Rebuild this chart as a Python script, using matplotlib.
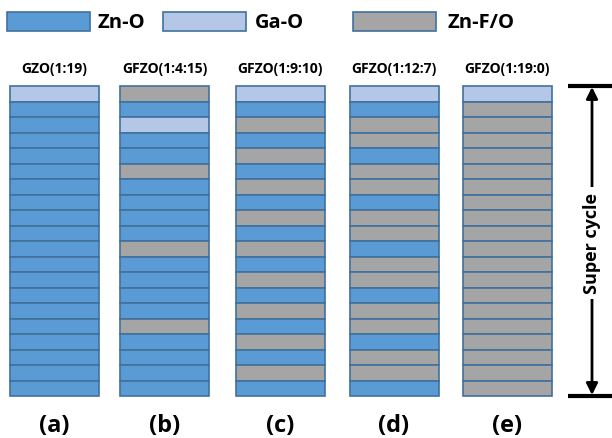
import matplotlib
matplotlib.use('Agg')
import matplotlib.pyplot as plt

# layer codes, top to bottom: Z = Zn-O, G = Ga-O, F = Zn-F/O
titles = ["GZO(1:19)", "GFZO(1:4:15)", "GFZO(1:9:10)", "GFZO(1:12:7)", "GFZO(1:19:0)"]
letters = ["(a)", "(b)", "(c)", "(d)", "(e)"]
stacks = [
    "G" + "Z" * 19,
    "FZGZZFZZZZFZZZZFZZZZ",
    "GZFZFZFZFZFZFZFZFZFZ",
    "GZFFZFFZFFZFFZFFZFFZ",
    "G" + "F" * 19,
]
legend_names = {"Z": "Zn-O", "G": "Ga-O", "F": "Zn-F/O"}
fills = {"Z": "#5B9BD5", "G": "#B4C7E7", "F": "#A5A5A5"}
edge = "#41719C"

plt.rcParams['font.family'] = ['Open Sans', 'DejaVu Sans']

fig = plt.figure(figsize=(6.12, 4.39), dpi=100)
ax = fig.add_axes([0, 0, 1, 1])
ax.set_xlim(0, 612)
ax.set_ylim(439, 0)
ax.axis('off')

# stack geometry in pixels
centers = [54, 164.5, 280, 394, 507]
col_w = 89
top, bottom = 87, 397
row_h = (bottom - top) / 20

for cx, layers, title, letter in zip(centers, stacks, titles, letters):
    for i, code in enumerate(layers):
        ax.bar(cx, row_h, bottom=top + i * row_h, width=col_w,
               color=fills[code], edgecolor=edge, linewidth=1.2)
    ax.text(cx, 69, title, ha='center', va='center', fontsize=10, fontweight='bold')
    ax.text(cx, 426, letter, ha='center', va='center', fontsize=17, fontweight='bold')

# legend
leg = [("Z", 7, 97), ("G", 163, 255), ("F", 353, 447)]
for code, x0, tx in leg:
    ax.bar(x0 + 41.5, 19, bottom=13, width=83, color=fills[code],
           edgecolor=edge, linewidth=1.2)
    ax.text(tx, 23, legend_names[code], ha='left', va='center',
            fontsize=14.5, fontweight='bold')

# super cycle arrow
ax.plot([568, 612], [top, top], color='black', lw=3, solid_capstyle='butt')
ax.plot([568, 612], [bottom, bottom], color='black', lw=3, solid_capstyle='butt')
ax.annotate("", xy=(592, top + 1), xytext=(592, bottom - 1),
            arrowprops=dict(arrowstyle='<|-|>', color='black', lw=2,
                            mutation_scale=17, shrinkA=0, shrinkB=0))
ax.text(592, 244, "Super cycle", rotation=90, ha='center', va='center',
        fontsize=13, fontweight='bold',
        bbox=dict(facecolor='white', edgecolor='none', pad=4))

fig.savefig("out.png", dpi=100)
